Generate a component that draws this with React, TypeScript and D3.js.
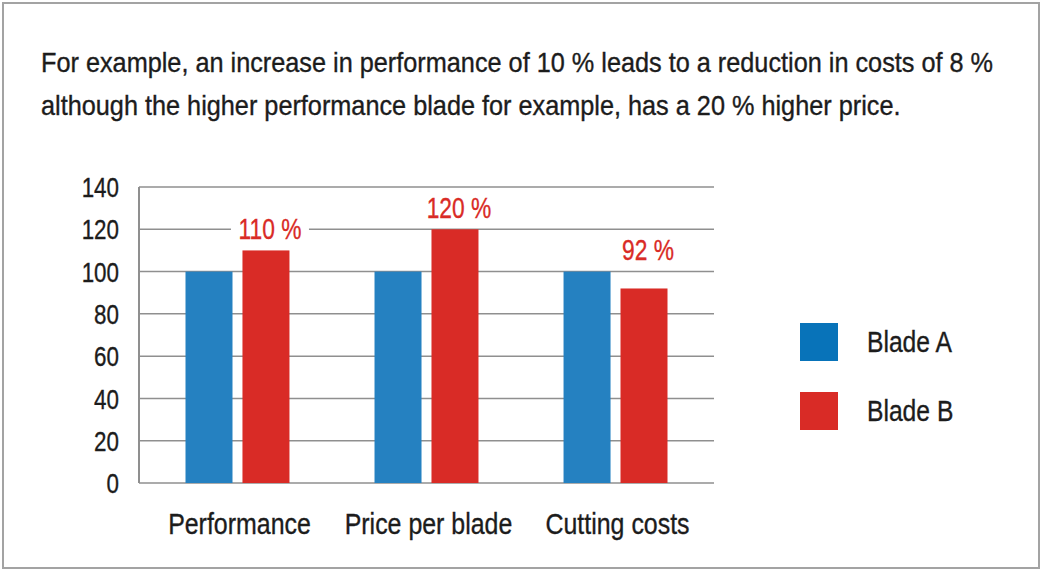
import React from "react";
import * as d3 from "d3";

const categories = ["Performance", "Price per blade", "Cutting costs"];
const seriesNames = ["Blade A", "Blade B"];
const bladeA = [100, 100, 100];
const bladeB = [110, 120, 92];
const valueLabels = ["110 %", "120 %", "92 %"];
const yTicks = [0, 20, 40, 60, 80, 100, 120, 140];
const titleLines = [
  "For example, an increase in performance of 10 % leads to a reduction in costs of 8 %",
  "although the higher performance blade for example, has a 20 % higher price.",
];

const W = 1044;
const H = 572;
const FONT = "'Liberation Sans', Arial, sans-serif";
const TEXT = "#1c1c1c";
const BAR_COLORS = ["#2581c1", "#d92b26"];
const LEGEND_COLORS = ["#0873b9", "#d92b26"];
const GRID = "#8f8f8f";
const TEXT_STROKE = 0.35;

type CTextProps = {
  x: number;
  y: number;
  sx: number;
  fontSize: number;
  anchor?: "start" | "middle" | "end";
  fill?: string;
  dy?: string;
  children: React.ReactNode;
};

function CText({ x, y, sx, fontSize, anchor = "start", fill = TEXT, dy, children }: CTextProps) {
  return (
    <g transform={`translate(${x},${y}) scale(${sx},1)`}>
      <text
        x={0}
        y={0}
        dy={dy}
        textAnchor={anchor}
        fontSize={fontSize}
        fill={fill}
        stroke={fill}
        strokeWidth={TEXT_STROKE}
      >
        {children}
      </text>
    </g>
  );
}

export default function App() {
  const left = 139;
  const right = 714;
  const top = 187;
  const bottom = 483;

  const y = d3.scaleLinear().domain([0, 140]).range([bottom, top]);
  const x0 = d3
    .scaleBand<string>()
    .domain(categories)
    .range([left, right])
    .paddingInner(0.45)
    .paddingOuter(0.246);
  const x1 = d3
    .scaleBand<string>()
    .domain(seriesNames)
    .range([0, x0.bandwidth()])
    .paddingInner(0.175)
    .paddingOuter(0);

  const data = categories.map((c, i) => ({
    category: c,
    values: [bladeA[i], bladeB[i]],
    label: valueLabels[i],
  }));

  return (
    <svg
      width={W}
      height={H}
      style={{ position: "absolute", left: 0, top: 0, background: "#fff" }}
      fontFamily={FONT}
    >
      <rect x={0} y={0} width={W} height={H} fill="#fff" />
      <rect x={3} y={3} width={1036} height={565} fill="none" stroke="#a3a3a3" strokeWidth={2} />

      {/* Title */}
      {titleLines.map((t, i) => (
        <CText key={i} x={41} y={72 + i * 43} fontSize={27} sx={0.936}>
          {t}
        </CText>
      ))}

      {/* Gridlines */}
      {yTicks.map((t) => (
        <line
          key={t}
          x1={left}
          x2={right}
          y1={y(t)}
          y2={y(t)}
          stroke={GRID}
          strokeWidth={1.5}
        />
      ))}
      <line x1={left} x2={left} y1={y(140)} y2={y(0)} stroke={GRID} strokeWidth={2} />

      {/* Y tick labels */}
      {yTicks.map((t) => (
        <CText key={t} x={119} y={y(t)} dy="0.36em" anchor="end" fontSize={28} sx={0.8}>
          {t}
        </CText>
      ))}

      {/* Bars */}
      {data.map((d) => (
        <g key={d.category} transform={`translate(${x0(d.category)},0)`}>
          {d.values.map((v, j) => (
            <rect
              key={j}
              x={x1(seriesNames[j])}
              y={y(v)}
              width={x1.bandwidth()}
              height={y(0) - y(v)}
              fill={BAR_COLORS[j]}
            />
          ))}
        </g>
      ))}

      {/* Value labels */}
      {data.map((d) => {
        const cx = (x0(d.category) as number) + (x1(seriesNames[1]) as number) + x1.bandwidth() / 2 + 4;
        const by = y(Math.max(...d.values)) - 11.5;
        return (
          <g key={d.category + "-lbl"}>
            <rect x={cx - 39} y={by - 25} width={78} height={29} fill="#fff" />
            <CText x={cx} y={by} anchor="middle" fontSize={30} sx={0.76} fill={BAR_COLORS[1]}>
              {d.label}
            </CText>
          </g>
        );
      })}

      {/* X labels */}
      {categories.map((c) => (
        <CText
          key={c}
          x={(x0(c) as number) + x0.bandwidth() / 2 + 2}
          y={534}
          anchor="middle"
          fontSize={29}
          sx={0.86}
        >
          {c}
        </CText>
      ))}

      {/* Legend */}
      {seriesNames.map((s, i) => (
        <g key={s} transform={`translate(800,${323 + i * 69})`}>
          <rect x={0} y={0} width={38} height={38} fill={LEGEND_COLORS[i]} />
          <CText x={67} y={19} dy="0.36em" fontSize={29} sx={0.85}>
            {s}
          </CText>
        </g>
      ))}
    </svg>
  );
}
